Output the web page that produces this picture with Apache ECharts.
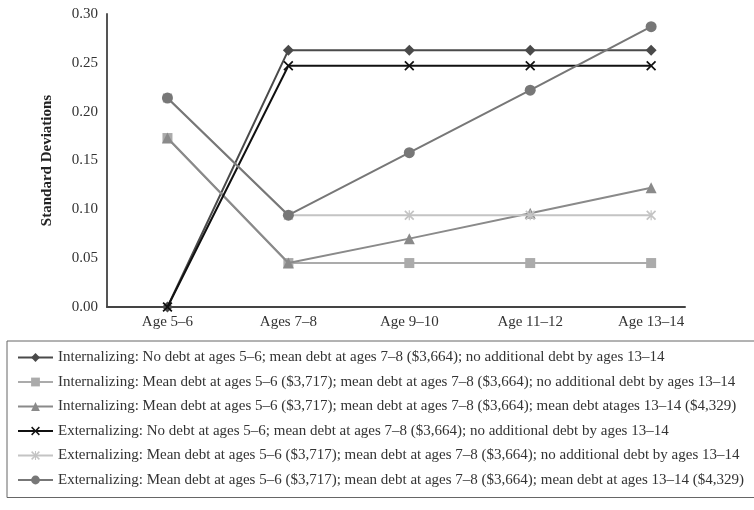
<!DOCTYPE html>
<html><head><meta charset="utf-8">
<script src="https://cdn.jsdelivr.net/npm/echarts@6/dist/echarts.min.js"></script>
<style>html,body{margin:0;padding:0;background:#fff}#c{width:754px;height:510px}</style>
</head><body><div id="c"></div>
<script>
var categories = ['Age 5\u20136', 'Ages 7\u20138', 'Age 9\u201310', 'Age 11\u201312', 'Age 13\u201314'];
var yTicks = [0, 0.05, 0.10, 0.15, 0.20, 0.25, 0.30];
var seriesNames = [
  'Internalizing: No debt at ages 5\u20136; mean debt at ages 7\u20138 ($3,664); no additional debt by ages 13\u201314',
  'Internalizing: Mean debt at ages 5\u20136 ($3,717); mean debt at ages 7\u20138 ($3,664); no additional debt by ages 13\u201314',
  'Internalizing: Mean debt at ages 5\u20136 ($3,717); mean debt at ages 7\u20138 ($3,664); mean debt atages 13\u201314 ($4,329)',
  'Externalizing: No debt at ages 5\u20136; mean debt at ages 7\u20138 ($3,664); no additional debt by ages 13\u201314',
  'Externalizing: Mean debt at ages 5\u20136 ($3,717); mean debt at ages 7\u20138 ($3,664); no additional debt by ages 13\u201314',
  'Externalizing: Mean debt at ages 5\u20136 ($3,717); mean debt at ages 7\u20138 ($3,664); mean debt at ages 13\u201314 ($4,329)'
];
var intNoDebt = [0, 0.263, 0.263, 0.263, 0.263];
var intMeanNoAdd = [0.173, 0.045, 0.045, 0.045, 0.045];
var intMeanMean = [0.173, 0.045, 0.070, 0.096, 0.122];
var extNoDebt = [0, 0.247, 0.247, 0.247, 0.247];
var extMeanNoAdd = [0.214, 0.094, 0.094, 0.094, 0.094];
var extMeanMean = [0.214, 0.094, 0.158, 0.222, 0.287];

var xPath = 'path://M0,1.2 L1.2,0 L5,3.8 L8.8,0 L10,1.2 L6.2,5 L10,8.8 L8.8,10 L5,6.2 L1.2,10 L0,8.8 L3.8,5 Z';
var starPath = 'path://M0,1.2 L1.2,0 L5,3.8 L8.8,0 L10,1.2 L6.2,5 L10,8.8 L8.8,10 L5,6.2 L1.2,10 L0,8.8 L3.8,5 Z M4.4,0 L5.6,0 L5.6,10 L4.4,10 Z';

var styles = [
  {color:'#4a4a4a', symbol:'diamond', size:11},
  {color:'#ababab', symbol:'rect', size:10},
  {color:'#8a8a8a', symbol:'triangle', size:11},
  {color:'#111111', symbol:xPath, size:10},
  {color:'#c4c4c4', symbol:starPath, size:10},
  {color:'#777777', symbol:'circle', size:11}
];
var values = [intNoDebt, intMeanNoAdd, intMeanMean, extNoDebt, extMeanNoAdd, extMeanMean];

var font = '"Liberation Serif", "DejaVu Serif", serif';
var series = values.map(function(v, i){
  return {
    name: seriesNames[i], type:'line',
    data: v.map(function(y, j){ return [j, y]; }),
    symbol: styles[i].symbol, symbolSize: styles[i].size,
    itemStyle:{color: styles[i].color},
    lineStyle:{color: styles[i].color, width:2},
    z: 2 + i, animation:false
  };
});

var chart = echarts.init(document.getElementById('c'));
chart.setOption({
  backgroundColor:'#fff',
  animation:false,
  textStyle:{fontFamily:font},
  grid:{left:107, right:69, top:14, bottom:203, containLabel:false},
  xAxis:{
    type:'value', min:-0.5, max:4.28,
    axisLine:{show:true, onZero:false, lineStyle:{color:'#444', width:2}},
    axisTick:{show:false},
    splitLine:{show:false},
    axisLabel:{customValues:[0,1,2,3,4], formatter:function(v){ return categories[Math.round(v)]; },
      color:'#333', fontFamily:font, fontSize:15, margin:8}
  },
  yAxis:{
    type:'value', min:0, max:0.30, interval:0.05,
    name:'Standard Deviations', nameLocation:'middle', nameGap:52,
    nameTextStyle:{fontFamily:font, fontWeight:'bold', fontSize:15, color:'#222'},
    axisLine:{show:true, onZero:false, lineStyle:{color:'#555', width:2}},
    axisTick:{show:false},
    splitLine:{show:false},
    axisLabel:{formatter:function(v){ return v.toFixed(2); }, color:'#333', fontFamily:font, fontSize:15, margin:9}
  },
  legend:{
    orient:'vertical', left:7, top:341,
    data: seriesNames,
    itemWidth:35, itemHeight:11, itemGap:9.5,
    padding:[9,40,10,10],
    borderColor:'#666', borderWidth:1,
    textStyle:{fontFamily:font, fontSize:15, color:'#333'}
  },
  series: series
});
</script></body></html>
